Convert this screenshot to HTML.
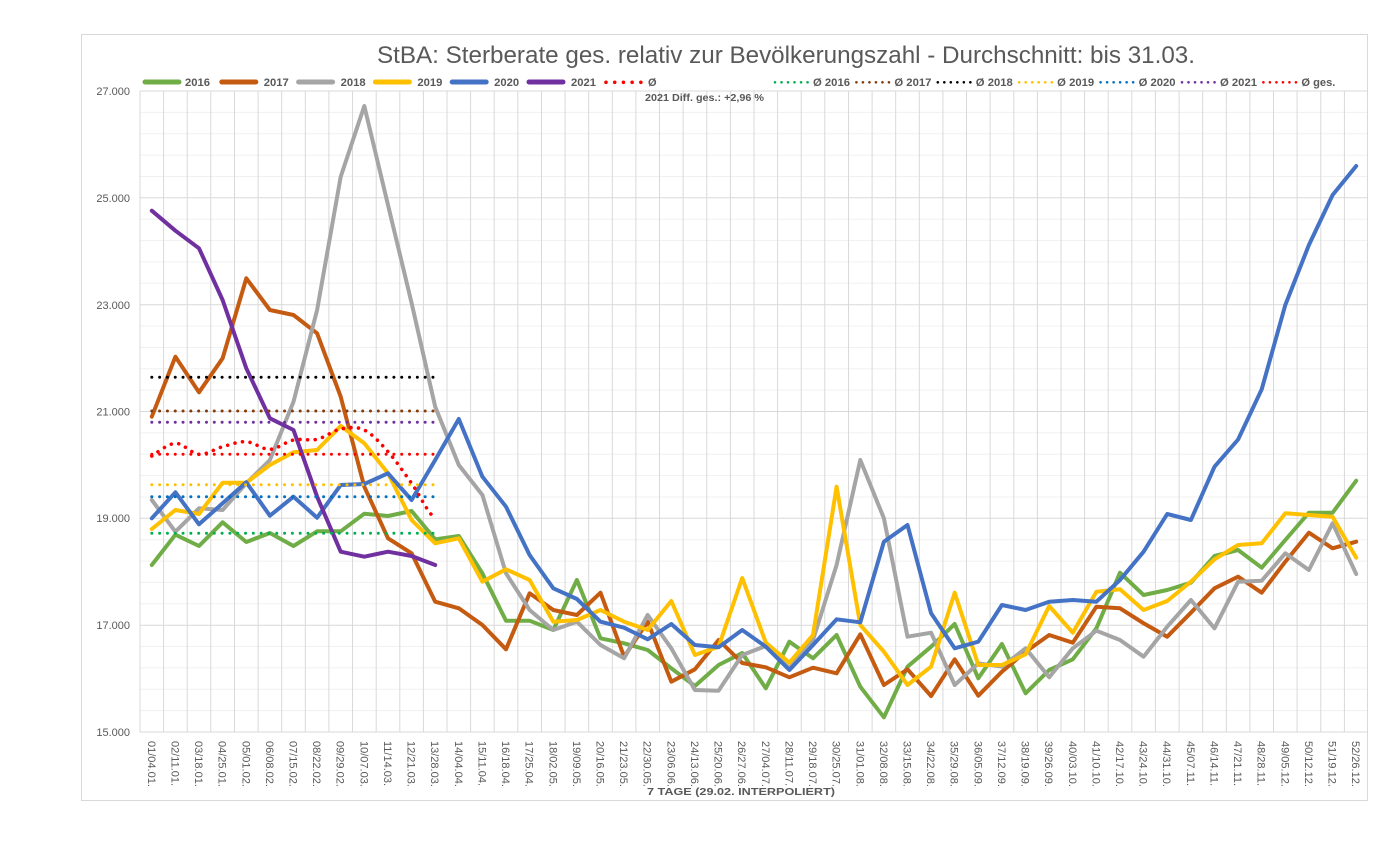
<!DOCTYPE html>
<html><head><meta charset="utf-8"><style>
html,body{margin:0;padding:0;background:#fff;}
svg{display:block;}
text{font-family:"Liberation Sans",sans-serif;fill:#595959;}
</style></head><body>
<svg width="1400" height="850" viewBox="0 0 1400 850" xmlns="http://www.w3.org/2000/svg">
<rect x="0" y="0" width="1400" height="850" fill="#fff"/>
<rect x="81.5" y="34.5" width="1286" height="766" fill="#fff" stroke="#d9d9d9" stroke-width="1"/>

<!-- minor horizontal grid -->
<g stroke="#f0f0f0" stroke-width="1">
<line x1="140" x2="1368" y1="710.6" y2="710.6"/><line x1="140" x2="1368" y1="689.3" y2="689.3"/><line x1="140" x2="1368" y1="667.9" y2="667.9"/><line x1="140" x2="1368" y1="646.5" y2="646.5"/>
<line x1="140" x2="1368" y1="603.8" y2="603.8"/><line x1="140" x2="1368" y1="582.4" y2="582.4"/><line x1="140" x2="1368" y1="561.1" y2="561.1"/><line x1="140" x2="1368" y1="539.7" y2="539.7"/>
<line x1="140" x2="1368" y1="497" y2="497"/><line x1="140" x2="1368" y1="475.6" y2="475.6"/><line x1="140" x2="1368" y1="454.2" y2="454.2"/><line x1="140" x2="1368" y1="432.9" y2="432.9"/>
<line x1="140" x2="1368" y1="390.1" y2="390.1"/><line x1="140" x2="1368" y1="368.8" y2="368.8"/><line x1="140" x2="1368" y1="347.4" y2="347.4"/><line x1="140" x2="1368" y1="326" y2="326"/>
<line x1="140" x2="1368" y1="283.3" y2="283.3"/><line x1="140" x2="1368" y1="261.9" y2="261.9"/><line x1="140" x2="1368" y1="240.6" y2="240.6"/><line x1="140" x2="1368" y1="219.2" y2="219.2"/>
<line x1="140" x2="1368" y1="176.5" y2="176.5"/><line x1="140" x2="1368" y1="155.1" y2="155.1"/><line x1="140" x2="1368" y1="133.7" y2="133.7"/><line x1="140" x2="1368" y1="112.4" y2="112.4"/>
</g>
<!-- major horizontal grid -->
<g stroke="#d9d9d9" stroke-width="1">
<line x1="140" x2="1368" y1="91" y2="91"/><line x1="140" x2="1368" y1="197.8" y2="197.8"/><line x1="140" x2="1368" y1="304.7" y2="304.7"/><line x1="140" x2="1368" y1="411.5" y2="411.5"/><line x1="140" x2="1368" y1="518.3" y2="518.3"/><line x1="140" x2="1368" y1="625.2" y2="625.2"/><line x1="140" x2="1368" y1="732" y2="732"/>
</g>
<!-- vertical grid -->
<g stroke="#d9d9d9" stroke-width="1">
<line y1="91" y2="732" x1="140" x2="140"/><line y1="91" y2="732" x1="163.6" x2="163.6"/><line y1="91" y2="732" x1="187.2" x2="187.2"/><line y1="91" y2="732" x1="210.8" x2="210.8"/><line y1="91" y2="732" x1="234.5" x2="234.5"/><line y1="91" y2="732" x1="258.1" x2="258.1"/><line y1="91" y2="732" x1="281.7" x2="281.7"/><line y1="91" y2="732" x1="305.3" x2="305.3"/><line y1="91" y2="732" x1="328.9" x2="328.9"/><line y1="91" y2="732" x1="352.5" x2="352.5"/><line y1="91" y2="732" x1="376.2" x2="376.2"/><line y1="91" y2="732" x1="399.8" x2="399.8"/><line y1="91" y2="732" x1="423.4" x2="423.4"/><line y1="91" y2="732" x1="447" x2="447"/><line y1="91" y2="732" x1="470.6" x2="470.6"/><line y1="91" y2="732" x1="494.2" x2="494.2"/><line y1="91" y2="732" x1="517.8" x2="517.8"/><line y1="91" y2="732" x1="541.5" x2="541.5"/><line y1="91" y2="732" x1="565.1" x2="565.1"/><line y1="91" y2="732" x1="588.7" x2="588.7"/><line y1="91" y2="732" x1="612.3" x2="612.3"/><line y1="91" y2="732" x1="635.9" x2="635.9"/><line y1="91" y2="732" x1="659.5" x2="659.5"/><line y1="91" y2="732" x1="683.1" x2="683.1"/><line y1="91" y2="732" x1="706.8" x2="706.8"/><line y1="91" y2="732" x1="730.4" x2="730.4"/><line y1="91" y2="732" x1="754" x2="754"/><line y1="91" y2="732" x1="777.6" x2="777.6"/><line y1="91" y2="732" x1="801.2" x2="801.2"/><line y1="91" y2="732" x1="824.8" x2="824.8"/><line y1="91" y2="732" x1="848.5" x2="848.5"/><line y1="91" y2="732" x1="872.1" x2="872.1"/><line y1="91" y2="732" x1="895.7" x2="895.7"/><line y1="91" y2="732" x1="919.3" x2="919.3"/><line y1="91" y2="732" x1="942.9" x2="942.9"/><line y1="91" y2="732" x1="966.5" x2="966.5"/><line y1="91" y2="732" x1="990.1" x2="990.1"/><line y1="91" y2="732" x1="1013.8" x2="1013.8"/><line y1="91" y2="732" x1="1037.4" x2="1037.4"/><line y1="91" y2="732" x1="1061" x2="1061"/><line y1="91" y2="732" x1="1084.6" x2="1084.6"/><line y1="91" y2="732" x1="1108.2" x2="1108.2"/><line y1="91" y2="732" x1="1131.8" x2="1131.8"/><line y1="91" y2="732" x1="1155.4" x2="1155.4"/><line y1="91" y2="732" x1="1179.1" x2="1179.1"/><line y1="91" y2="732" x1="1202.7" x2="1202.7"/><line y1="91" y2="732" x1="1226.3" x2="1226.3"/><line y1="91" y2="732" x1="1249.9" x2="1249.9"/><line y1="91" y2="732" x1="1273.5" x2="1273.5"/><line y1="91" y2="732" x1="1297.1" x2="1297.1"/><line y1="91" y2="732" x1="1320.8" x2="1320.8"/><line y1="91" y2="732" x1="1344.4" x2="1344.4"/><line y1="91" y2="732" x1="1367.5" x2="1367.5"/>
</g>

<!-- Y labels -->
<g font-size="11" text-anchor="end">
<text x="130" y="95">27.000</text>
<text x="130" y="202">25.000</text>
<text x="130" y="309">23.000</text>
<text x="130" y="415.5">21.000</text>
<text x="130" y="522">19.000</text>
<text x="130" y="629">17.000</text>
<text x="130" y="736">15.000</text>
</g>

<!-- X labels -->
<g font-size="11">
<text transform="translate(151.8,741) rotate(90)" y="4">01/04.01.</text>
<text transform="translate(175.4,741) rotate(90)" y="4">02/11.01.</text>
<text transform="translate(199,741) rotate(90)" y="4">03/18.01.</text>
<text transform="translate(222.6,741) rotate(90)" y="4">04/25.01.</text>
<text transform="translate(246.3,741) rotate(90)" y="4">05/01.02.</text>
<text transform="translate(269.9,741) rotate(90)" y="4">06/08.02.</text>
<text transform="translate(293.5,741) rotate(90)" y="4">07/15.02.</text>
<text transform="translate(317.1,741) rotate(90)" y="4">08/22.02.</text>
<text transform="translate(340.7,741) rotate(90)" y="4">09/29.02.</text>
<text transform="translate(364.3,741) rotate(90)" y="4">10/07.03.</text>
<text transform="translate(388,741) rotate(90)" y="4">11/14.03.</text>
<text transform="translate(411.6,741) rotate(90)" y="4">12/21.03.</text>
<text transform="translate(435.2,741) rotate(90)" y="4">13/28.03.</text>
<text transform="translate(458.8,741) rotate(90)" y="4">14/04.04.</text>
<text transform="translate(482.4,741) rotate(90)" y="4">15/11.04.</text>
<text transform="translate(506,741) rotate(90)" y="4">16/18.04.</text>
<text transform="translate(529.6,741) rotate(90)" y="4">17/25.04.</text>
<text transform="translate(553.3,741) rotate(90)" y="4">18/02.05.</text>
<text transform="translate(576.9,741) rotate(90)" y="4">19/09.05.</text>
<text transform="translate(600.5,741) rotate(90)" y="4">20/16.05.</text>
<text transform="translate(624.1,741) rotate(90)" y="4">21/23.05.</text>
<text transform="translate(647.7,741) rotate(90)" y="4">22/30.05.</text>
<text transform="translate(671.3,741) rotate(90)" y="4">23/06.06.</text>
<text transform="translate(694.9,741) rotate(90)" y="4">24/13.06.</text>
<text transform="translate(718.6,741) rotate(90)" y="4">25/20.06.</text>
<text transform="translate(742.2,741) rotate(90)" y="4">26/27.06.</text>
<text transform="translate(765.8,741) rotate(90)" y="4">27/04.07.</text>
<text transform="translate(789.4,741) rotate(90)" y="4">28/11.07.</text>
<text transform="translate(813,741) rotate(90)" y="4">29/18.07.</text>
<text transform="translate(836.6,741) rotate(90)" y="4">30/25.07.</text>
<text transform="translate(860.3,741) rotate(90)" y="4">31/01.08.</text>
<text transform="translate(883.9,741) rotate(90)" y="4">32/08.08.</text>
<text transform="translate(907.5,741) rotate(90)" y="4">33/15.08.</text>
<text transform="translate(931.1,741) rotate(90)" y="4">34/22.08.</text>
<text transform="translate(954.7,741) rotate(90)" y="4">35/29.08.</text>
<text transform="translate(978.3,741) rotate(90)" y="4">36/05.09.</text>
<text transform="translate(1001.9,741) rotate(90)" y="4">37/12.09.</text>
<text transform="translate(1025.6,741) rotate(90)" y="4">38/19.09.</text>
<text transform="translate(1049.2,741) rotate(90)" y="4">39/26.09.</text>
<text transform="translate(1072.8,741) rotate(90)" y="4">40/03.10.</text>
<text transform="translate(1096.4,741) rotate(90)" y="4">41/10.10.</text>
<text transform="translate(1120,741) rotate(90)" y="4">42/17.10.</text>
<text transform="translate(1143.6,741) rotate(90)" y="4">43/24.10.</text>
<text transform="translate(1167.2,741) rotate(90)" y="4">44/31.10.</text>
<text transform="translate(1190.9,741) rotate(90)" y="4">45/07.11.</text>
<text transform="translate(1214.5,741) rotate(90)" y="4">46/14.11.</text>
<text transform="translate(1238.1,741) rotate(90)" y="4">47/21.11.</text>
<text transform="translate(1261.7,741) rotate(90)" y="4">48/28.11.</text>
<text transform="translate(1285.3,741) rotate(90)" y="4">49/05.12.</text>
<text transform="translate(1308.9,741) rotate(90)" y="4">50/12.12.</text>
<text transform="translate(1332.6,741) rotate(90)" y="4">51/19.12.</text>
<text transform="translate(1356.2,741) rotate(90)" y="4">52/26.12.</text>
</g>

<!-- Series -->
<g fill="none" stroke-width="4" stroke-linejoin="round" stroke-linecap="round">
<polyline stroke="#70AD47" points="151.8,565 175.4,534.7 199,546 222.6,522.3 246.3,542 269.9,533 293.5,546 317.1,531.3 340.7,531.3 364.3,513.7 388,516 411.6,511 435.2,539.3 458.8,536 482.4,573.3 506,620.7 529.6,620.7 553.3,630 576.9,580 600.5,638.3 624.1,643.3 647.7,650 671.3,668.3 694.9,686 718.6,665 742.2,653 765.8,688.3 789.4,641.7 813,658.3 836.6,635 860.3,686.7 883.9,717.3 907.5,666.7 931.1,646.7 954.7,624 978.3,678.3 1001.9,644 1025.6,693.3 1049.2,670 1072.8,659.3 1096.4,628.3 1120,572.7 1143.6,595 1167.2,590 1190.9,582.7 1214.5,556 1238.1,550 1261.7,567.7 1285.3,540 1308.9,512.7 1332.6,512.7 1356.2,480.7"/>
<polyline stroke="#C55A11" points="151.8,416.7 175.4,356.7 199,392.3 222.6,358.3 246.3,278.3 269.9,310 293.5,315 317.1,333.3 340.7,396.7 364.3,486.7 388,538.3 411.6,553.3 435.2,601.7 458.8,608.3 482.4,625 506,649.3 529.6,593.3 553.3,610 576.9,615 600.5,592.7 624.1,656.7 647.7,621.7 671.3,681.7 694.9,669.3 718.6,640 742.2,663 765.8,667.3 789.4,677.3 813,667.7 836.6,673.3 860.3,634.3 883.9,685 907.5,669.3 931.1,696 954.7,659.3 978.3,695.7 1001.9,671.7 1025.6,651.7 1049.2,635 1072.8,642.7 1096.4,606.7 1120,608.3 1143.6,623.3 1167.2,636.7 1190.9,612.7 1214.5,588.3 1238.1,576.7 1261.7,592.7 1285.3,561.7 1308.9,532.7 1332.6,548.3 1356.2,541.7"/>
<polyline stroke="#A5A5A5" points="151.8,500 175.4,531.7 199,508.3 222.6,510 246.3,483.3 269.9,460 293.5,401.7 317.1,310 340.7,176.7 364.3,106 388,205 411.6,303 435.2,406.7 458.8,465 482.4,495 506,573.3 529.6,610 553.3,630 576.9,621.7 600.5,645 624.1,658.3 647.7,615 671.3,648.3 694.9,690 718.6,690.7 742.2,655 765.8,646 789.4,668.3 813,640 836.6,565 860.3,460 883.9,518.3 907.5,636.7 931.1,632.7 954.7,685 978.3,663.3 1001.9,666.7 1025.6,648.3 1049.2,677.3 1072.8,648.3 1096.4,630.7 1120,640 1143.6,656.7 1167.2,626.7 1190.9,600 1214.5,628.3 1238.1,581.7 1261.7,580.7 1285.3,553.3 1308.9,570 1332.6,523.3 1356.2,574"/>
<polyline stroke="#FFC000" points="151.8,529 175.4,510 199,514 222.6,482.7 246.3,482.7 269.9,465 293.5,452.3 317.1,450 340.7,426 364.3,443.3 388,473.3 411.6,520 435.2,543.3 458.8,538.3 482.4,581.7 506,569.3 529.6,580 553.3,621.7 576.9,620 600.5,610 624.1,621.7 647.7,630 671.3,601 694.9,655 718.6,646.7 742.2,578 765.8,642.7 789.4,662.7 813,635 836.6,486.7 860.3,625 883.9,651.7 907.5,685 931.1,666.7 954.7,592.7 978.3,665 1001.9,665 1025.6,654.3 1049.2,606 1072.8,632.7 1096.4,591.7 1120,589.3 1143.6,610 1167.2,601 1190.9,581.7 1214.5,559.3 1238.1,545 1261.7,543.3 1285.3,513.3 1308.9,515 1332.6,516.7 1356.2,557.7"/>
<polyline stroke="#4472C4" points="151.8,518.3 175.4,492.3 199,524.3 222.6,503.3 246.3,482.3 269.9,515.7 293.5,496.7 317.1,517.7 340.7,485 364.3,484 388,473.3 411.6,500 435.2,460 458.8,419 482.4,476.7 506,506.7 529.6,555 553.3,588.3 576.9,599 600.5,621.7 624.1,627.7 647.7,639.3 671.3,624 694.9,645 718.6,647.3 742.2,630 765.8,646.7 789.4,670 813,645 836.6,619.3 860.3,622.3 883.9,541.7 907.5,525 931.1,613.3 954.7,648.3 978.3,641.7 1001.9,605 1025.6,610 1049.2,601.7 1072.8,600 1096.4,601.7 1120,580 1143.6,551.7 1167.2,514 1190.9,520 1214.5,466.7 1238.1,439.5 1261.7,389.3 1285.3,305 1308.9,245 1332.6,195 1356.2,166"/>
<polyline stroke="#7030A0" points="151.8,210.7 175.4,230.7 199,248.3 222.6,300 246.3,368.3 269.9,418.3 293.5,430 317.1,496.7 340.7,551.7 364.3,556.7 388,551.7 411.6,556 435.2,565"/>
</g>

<!-- Average dotted lines -->
<g fill="none" stroke-width="3" stroke-linecap="round" stroke-dasharray="0.01 7.8">
<line x1="151.8" x2="435.2" y1="377.3" y2="377.3" stroke="#000000"/>
<line x1="151.8" x2="435.2" y1="411" y2="411" stroke="#843C0C"/>
<line x1="151.8" x2="435.2" y1="422.3" y2="422.3" stroke="#7030A0"/>
<line x1="151.8" x2="435.2" y1="454.3" y2="454.3" stroke="#FF0000"/>
<line x1="151.8" x2="435.2" y1="484.7" y2="484.7" stroke="#FFC000"/>
<line x1="151.8" x2="435.2" y1="496.7" y2="496.7" stroke="#0070C0"/>
<line x1="151.8" x2="435.2" y1="533.3" y2="533.3" stroke="#00B050"/>
</g>
<path fill="none" stroke="#FF0000" stroke-width="3.6" stroke-linecap="round" stroke-dasharray="0.01 7.6" d="M151.8,456 C155.7,453.9 167.5,443.6 175.4,443.3 C183.3,443.0 191.1,453.7 199,454.3 C206.9,454.9 214.7,448.8 222.6,446.7 C230.5,444.6 238.4,441.3 246.3,441.7 C254.2,442.1 262.0,449.6 269.9,449.3 C277.8,449.0 285.6,441.7 293.5,440 C301.4,438.3 309.2,441.1 317.1,439.3 C325.0,437.5 332.8,430.6 340.7,429 C348.6,427.5 356.4,426.2 364.3,430 C372.2,433.8 380.1,442.8 388,451.7 C395.9,460.6 403.7,472.2 411.6,483.3 C419.5,494.4 427.3,512.5 435.2,518.3"/>

<!-- Title -->
<text x="377" y="63" font-size="24" textLength="818" lengthAdjust="spacingAndGlyphs">StBA: Sterberate ges. relativ zur Bevölkerungszahl - Durchschnitt: bis 31.03.</text>

<!-- Legend -->
<g stroke-width="5" stroke-linecap="round">
<line x1="145" x2="179" y1="82" y2="82" stroke="#70AD47"/>
<line x1="221.8" x2="255.8" y1="82" y2="82" stroke="#C55A11"/>
<line x1="298.6" x2="332.6" y1="82" y2="82" stroke="#A5A5A5"/>
<line x1="375.4" x2="409.4" y1="82" y2="82" stroke="#FFC000"/>
<line x1="452.2" x2="486.2" y1="82" y2="82" stroke="#4472C4"/>
<line x1="529" x2="563" y1="82" y2="82" stroke="#7030A0"/>
</g>
<line x1="606" x2="641" y1="82.3" y2="82.3" stroke="#FF0000" stroke-width="3.6" stroke-linecap="round" stroke-dasharray="0.01 8.7"/>
<g stroke-width="2.6" stroke-linecap="round" stroke-dasharray="0.01 6.5">
<line x1="775" x2="808" y1="82.3" y2="82.3" stroke="#00B050"/>
<line x1="856.4" x2="889.4" y1="82.3" y2="82.3" stroke="#843C0C"/>
<line x1="937.8" x2="970.8" y1="82.3" y2="82.3" stroke="#000000"/>
<line x1="1019.2" x2="1052.2" y1="82.3" y2="82.3" stroke="#FFC000"/>
<line x1="1100.6" x2="1133.6" y1="82.3" y2="82.3" stroke="#0070C0"/>
<line x1="1182" x2="1215" y1="82.3" y2="82.3" stroke="#7030A0"/>
<line x1="1263.4" x2="1296.4" y1="82.3" y2="82.3" stroke="#FF0000"/>
</g>
<g font-size="11" font-weight="bold">
<text x="185" y="86" textLength="25" lengthAdjust="spacingAndGlyphs">2016</text>
<text x="263.8" y="86" textLength="25" lengthAdjust="spacingAndGlyphs">2017</text>
<text x="340.6" y="86" textLength="25" lengthAdjust="spacingAndGlyphs">2018</text>
<text x="417.4" y="86" textLength="25" lengthAdjust="spacingAndGlyphs">2019</text>
<text x="494.2" y="86" textLength="25" lengthAdjust="spacingAndGlyphs">2020</text>
<text x="571" y="86" textLength="25" lengthAdjust="spacingAndGlyphs">2021</text>
<text x="648" y="86">Ø</text>
<text x="813" y="86" textLength="37" lengthAdjust="spacingAndGlyphs">Ø 2016</text>
<text x="894.4" y="86" textLength="37" lengthAdjust="spacingAndGlyphs">Ø 2017</text>
<text x="975.8" y="86" textLength="37" lengthAdjust="spacingAndGlyphs">Ø 2018</text>
<text x="1057.2" y="86" textLength="37" lengthAdjust="spacingAndGlyphs">Ø 2019</text>
<text x="1138.6" y="86" textLength="37" lengthAdjust="spacingAndGlyphs">Ø 2020</text>
<text x="1220" y="86" textLength="37" lengthAdjust="spacingAndGlyphs">Ø 2021</text>
<text x="1301.4" y="86" textLength="34" lengthAdjust="spacingAndGlyphs">Ø ges.</text>
</g>

<!-- Annotation -->
<text x="645" y="101" font-size="10" font-weight="bold" textLength="119" lengthAdjust="spacingAndGlyphs">2021 Diff. ges.: +2,96 %</text>

<!-- Footer -->
<text x="647" y="795" font-size="10.5" font-weight="bold" textLength="188" lengthAdjust="spacingAndGlyphs">7 TAGE (29.02. INTERPOLIERT)</text>
</svg>
</body></html>
